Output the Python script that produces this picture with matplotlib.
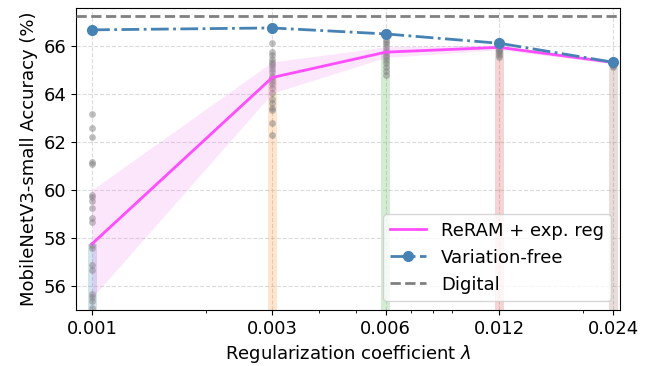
import numpy as np
import matplotlib
matplotlib.use("Agg")
import matplotlib.pyplot as plt

plt.rcParams['font.size'] = 13

lambdas = [0.001, 0.003, 0.006, 0.012, 0.024]
lambda_labels = ["0.001", "0.003", "0.006", "0.012", "0.024"]

# ReRAM + exp. reg (mean and spread over runs)
reram_mean = [57.76, 64.70, 65.76, 65.96, 65.33]
reram_std = [2.25, 0.65, 0.22, 0.10, 0.05]

# individual runs
runs_0001 = [63.17, 62.58, 62.24, 61.16, 61.10, 59.80, 59.73, 59.56, 59.24, 58.85,
             58.68, 57.70, 57.60, 56.86, 56.65, 55.67, 55.53, 55.39, 55.07]
runs_0003 = [66.15, 65.76, 65.66, 65.48, 65.36, 65.27, 65.17, 65.06, 64.92, 64.78,
             64.68, 64.56, 64.42, 64.25, 64.07, 63.79, 63.65, 63.44, 63.33, 62.81, 62.29]
runs_0006 = [66.28, 66.18, 66.08, 65.97, 65.86, 65.76, 65.66, 65.55, 65.44, 65.30,
             65.13, 64.96, 64.82]
runs_0012 = [66.05, 65.98, 65.90, 65.85, 65.80, 65.72, 65.65, 65.55]
runs_0024 = [65.35, 65.30, 65.25, 65.20, 65.15]
runs = [runs_0001, runs_0003, runs_0006, runs_0012, runs_0024]

variation_free = [66.69, 66.77, 66.52, 66.13, 65.34]
digital = 67.25

bar_colors = ['tab:blue', 'tab:orange', 'tab:green', 'tab:red', 'tab:brown']

fig, ax = plt.subplots(figsize=(6.5, 3.66), dpi=100)
fig.subplots_adjust(left=0.117, right=0.954, top=0.978, bottom=0.153)

x = np.array(lambdas)
mean = np.array(reram_mean)
std = np.array(reram_std)

# thin bars, constant width on the log axis
for lam, m, c in zip(lambdas, reram_mean, bar_colors):
    w0, w1 = lam / 1.028, lam * 1.028
    ax.bar(w0, m, width=w1 - w0, align='edge', color=c, alpha=0.2, zorder=1)

for lam, vals in zip(lambdas, runs):
    ax.scatter([lam] * len(vals), vals, s=24, color='gray', alpha=0.5,
               linewidths=0, zorder=2)

ax.fill_between(x, mean - std, mean + std, color='violet', alpha=0.2,
                linewidth=0, zorder=2)
ax.plot(x, mean, color='#ff4dff', lw=2, label='ReRAM + exp. reg', zorder=3)
ax.plot(x, variation_free, '-.', marker='o', color='steelblue', lw=2,
        markersize=7, label='Variation-free', zorder=4)
ax.axhline(digital, color='gray', ls='--', lw=2, label='Digital', zorder=3)

ax.set_xscale('log')
ax.set_xticks(lambdas)
ax.set_xticklabels(lambda_labels)
ax.set_xlim(0.000907, 0.02505)
ax.set_ylim(55, 67.6)
ax.set_yticks([56, 58, 60, 62, 64, 66])

ax.grid(True, ls='--', color='lightgray', alpha=0.8, zorder=0)
ax.set_axisbelow(True)

ax.set_xlabel(r'Regularization coefficient $\lambda$')
ax.set_ylabel('MobileNetV3-small Accuracy (%)')
ax.legend(loc='lower right')

plt.savefig('out.png', dpi=100)
